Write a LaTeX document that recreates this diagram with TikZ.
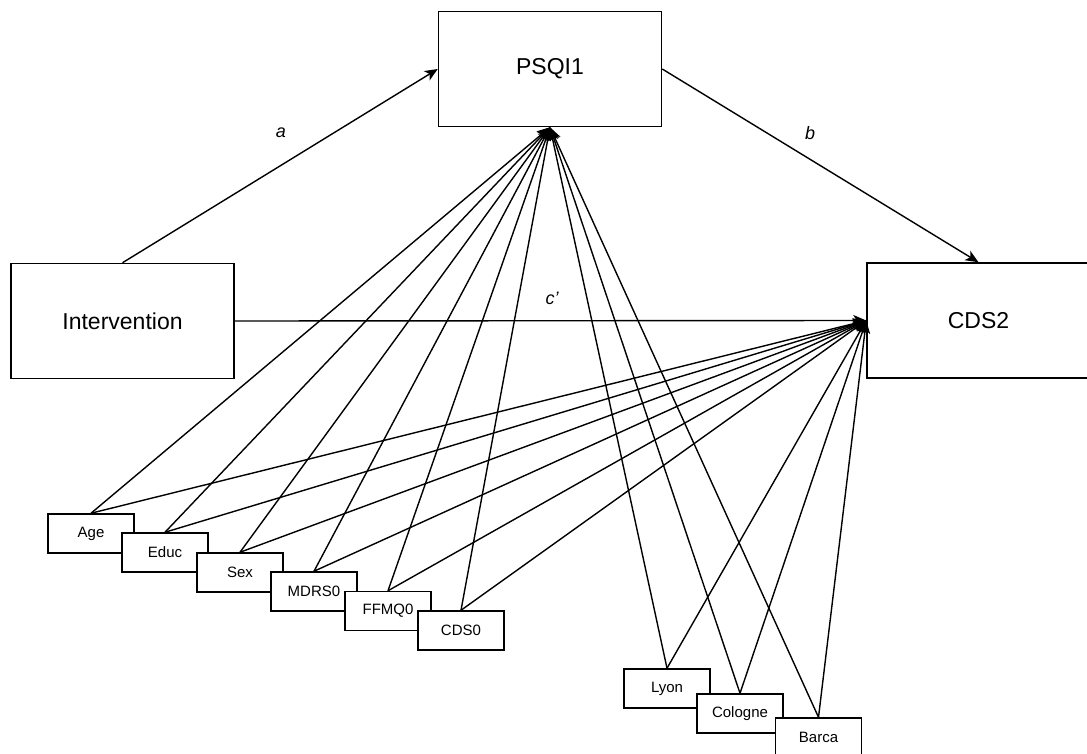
\documentclass[tikz,border=0pt]{standalone}
\usepackage{fontspec}
\setmainfont{Liberation Sans}
\usetikzlibrary{arrows.meta}
\begin{document}
\begin{tikzpicture}[x=1pt,y=-1pt,
  bigbox/.style={draw, line width=1.5pt, minimum width=223pt, minimum height=115pt, inner sep=0pt, font=\fontsize{23}{27}\selectfont},
  smallbox/.style={draw, fill=white, line width=1.5pt, minimum width=86pt, minimum height=39pt, inner sep=0pt, font=\fontsize{15}{17}\selectfont},
  link/.style={-{Stealth[length=13pt,width=11pt,inset=3.5pt]}, line width=1.4pt},
  lab/.style={font=\fontsize{18}{20}\selectfont\itshape}]
\useasboundingbox (0,0) rectangle (1087,754);
% main nodes
\node[bigbox] (int) at (122.5,321) {Intervention};
\node[bigbox] (psqi) at (550,69) {PSQI1};
\node[bigbox] (cds2) at (978.5,320.5) {CDS2};
% covariates
\node[smallbox] (age) at (91,533.5) {Age};
\node[smallbox] (educ) at (165,552.5) {Educ};
\node[smallbox] (sex) at (240,572.5) {Sex};
\node[smallbox] (mdrs) at (314,591.5) {MDRS0};
\node[smallbox] (ffmq) at (388,611) {FFMQ0};
\node[smallbox] (cds0) at (461,630.5) {CDS0};
\node[smallbox] (lyon) at (667,688.5) {Lyon};
\node[smallbox] (cologne) at (740,713.5) {Cologne};
\node[smallbox] (barca) at (818.5,737.5) {Barca};
% paths
\draw[link] (int.north) -- (psqi.west);
\draw[link] (psqi.east) -- (cds2.north);
\draw[link] (int.east) -- (cds2.west);
\foreach \n in {age,educ,sex,mdrs,ffmq,cds0,lyon,cologne,barca}{
  \draw[link] (\n.north) -- (psqi.south);
  \draw[link] (\n.north) -- (cds2.west);
}
% labels
\node[lab] (la) at (281,133) {a};
\node[lab] (lb) at (810,133) {b};
\node[lab] (lc) at (552,298) {c\textquoteright};
\end{tikzpicture}
\end{document}
